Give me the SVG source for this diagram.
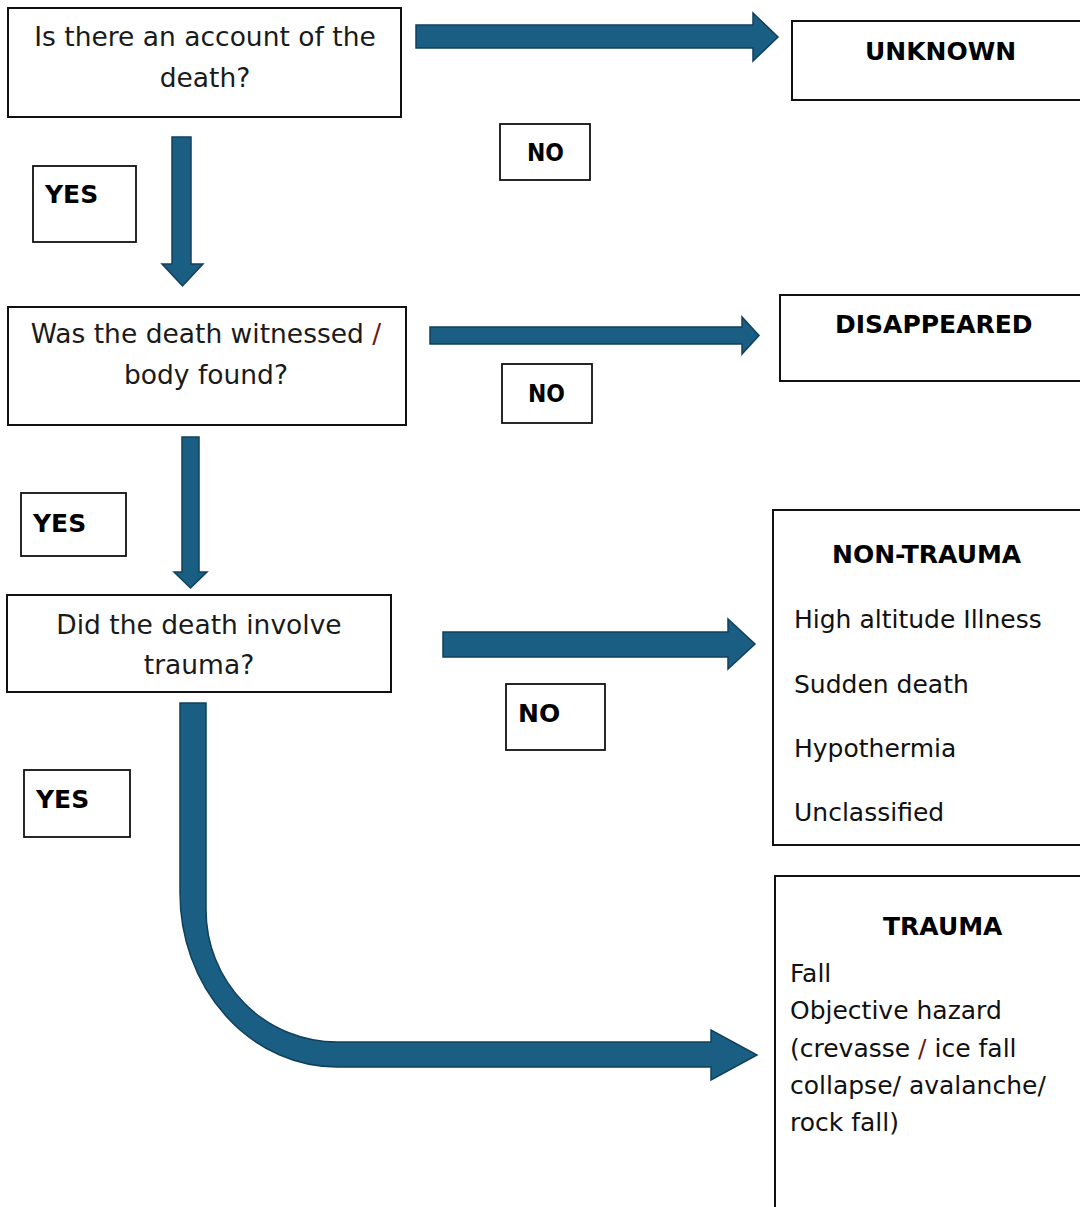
<svg xmlns="http://www.w3.org/2000/svg" width="1080" height="1207" viewBox="0 0 1080 1207">
<defs>
<style>
.box{fill:#fff;stroke:#111;stroke-width:2}
.lbl{fill:#fff;stroke:#111;stroke-width:1.8}
.arr{fill:#1b5e83;stroke:#10405c;stroke-width:1.5;stroke-linejoin:miter}
.q{font-family:"DejaVu Sans",Verdana,sans-serif;font-size:26.5px;fill:#1a1a1a;text-anchor:middle}
.t{font-family:"DejaVu Sans",Verdana,sans-serif;font-size:25px;fill:#111}
.b{font-family:"DejaVu Sans",Verdana,sans-serif;font-size:25px;font-weight:bold;fill:#000}
.red{fill:#6b1a1a}
</style>
</defs>
<rect width="1080" height="1207" fill="#fff"/>

<g id="connectors">
<path class="arr" d="M416,25 H753 V13 L778,37 L753,61 V48 H416 Z"/>
<path class="arr" d="M172,137 H191 V264 H203 L182.5,286 L162,264 H172 Z"/>
<path class="arr" d="M430,327 H742 V317 L759,335.5 L742,354 V344 H430 Z"/>
<path class="arr" d="M182,437 H199 V572 H207 L190.5,588 L174,572 H182 Z"/>
<path class="arr" d="M443,632 H728 V619 L755,644 L728,669 V657 H443 Z"/>
<path class="arr" d="M180,703 H206 V910 A131,132 0 0 0 337,1042 H711 V1030 L757,1055 L711,1080 V1067 H337 A157,174 0 0 1 180,893 Z"/>
</g>

<g id="q1">
<rect class="box" x="8" y="8" width="393" height="109"/>
<text class="q" x="205" y="46">Is there an account of the</text>
<text class="q" x="205" y="87">death?</text>
</g>

<g id="yes1">
<rect class="lbl" x="33" y="166" width="103" height="76"/>
<text class="b" x="45" y="203">YES</text>
</g>

<g id="no1">
<rect class="lbl" x="500" y="124" width="90" height="56"/>
<text class="b" x="527" y="161" textLength="37" lengthAdjust="spacingAndGlyphs">NO</text>
</g>

<g id="unknown">
<rect class="box" x="792" y="21" width="300" height="79"/>
<text class="b" x="865" y="60">UNKNOWN</text>
</g>

<g id="q2">
<rect class="box" x="8" y="307" width="398" height="118"/>
<text class="q" x="206" y="343">Was the death witnessed <tspan class="red">/</tspan></text>
<text class="q" x="206" y="384">body found?</text>
</g>

<g id="no2">
<rect class="lbl" x="502" y="364" width="90" height="59"/>
<text class="b" x="528" y="402" textLength="37" lengthAdjust="spacingAndGlyphs">NO</text>
</g>

<g id="disappeared">
<rect class="box" x="780" y="295" width="310" height="86"/>
<text class="b" x="835" y="333">DISAPPEARED</text>
</g>

<g id="yes2">
<rect class="lbl" x="21" y="493" width="105" height="63"/>
<text class="b" x="33" y="532">YES</text>
</g>

<g id="q3">
<rect class="box" x="7" y="595" width="384" height="97"/>
<text class="q" x="199" y="634">Did the death involve</text>
<text class="q" x="199" y="674">trauma?</text>
</g>

<g id="no3">
<rect class="lbl" x="506" y="684" width="99" height="66"/>
<text class="b" x="518" y="722">NO</text>
</g>

<g id="yes3">
<rect class="lbl" x="24" y="770" width="106" height="67"/>
<text class="b" x="36" y="808">YES</text>
</g>

<g id="nontrauma">
<rect class="box" x="773" y="510" width="320" height="335"/>
<text class="b" x="832" y="563">NON-TRAUMA</text>
<text class="t" x="794" y="628">High altitude Illness</text>
<text class="t" x="794" y="693">Sudden death</text>
<text class="t" x="794" y="757">Hypothermia</text>
<text class="t" x="794" y="821">Unclassified</text>
</g>

<g id="trauma">
<rect class="box" x="775" y="876" width="320" height="345"/>
<text class="b" x="883" y="935">TRAUMA</text>
<text class="t" x="790" y="982">Fall</text>
<text class="t" x="790" y="1019">Objective hazard</text>
<text class="t" x="790" y="1057">(crevasse <tspan class="red">/</tspan> ice fall</text>
<text class="t" x="790" y="1094">collapse/ avalanche/</text>
<text class="t" x="790" y="1131">rock fall)</text>
</g>
</svg>
